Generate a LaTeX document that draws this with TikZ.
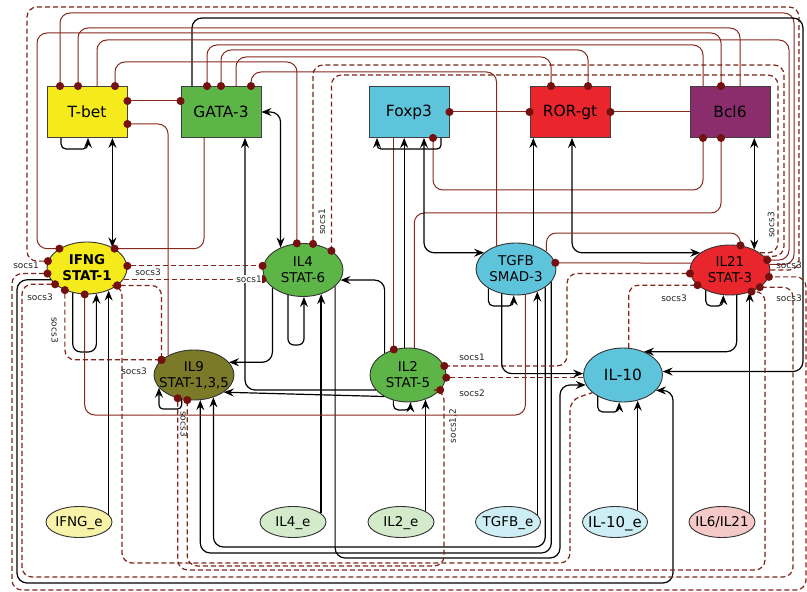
\documentclass[tikz,border=0pt]{standalone}
\usepackage{fontspec}
\setmainfont{DejaVu Sans}
\usetikzlibrary{shapes.geometric,arrows.meta}
\definecolor{inhc}{HTML}{86291F}
\definecolor{dashc}{HTML}{7E2418}
\definecolor{dotc}{HTML}{741010}
\definecolor{cyel}{HTML}{F4EA1C}
\definecolor{cgrn}{HTML}{5DB547}
\definecolor{ccya}{HTML}{5EC4DC}
\definecolor{cred}{HTML}{E8262B}
\definecolor{cpur}{HTML}{8B2C6C}
\definecolor{coli}{HTML}{7B7A28}
\definecolor{eyel}{HTML}{F8F3A8}
\definecolor{egrn}{HTML}{D4EBCB}
\definecolor{ecya}{HTML}{CDEEF5}
\definecolor{ered}{HTML}{F6C9C9}
% centred labels that do not enlarge their shapes
\newcommand{\onel}[1]{\smash{\raisebox{-0.36em}{\makebox[0pt]{#1}}}}
\newcommand{\twol}[2]{\smash{\raisebox{-4.8bp}{\makebox[0pt]{\begin{tabular}{@{}c@{}}#1\\#2\end{tabular}}}}}
\begin{document}
\begin{tikzpicture}[x=1bp,y=-1bp,
  box/.style={rectangle,draw=black!75,line width=0.9bp,minimum width=80bp,minimum height=51bp,inner sep=0pt,font=\fontsize{15.5}{17}\selectfont},
  cell/.style={ellipse,draw=black!80,line width=0.9bp,minimum width=80bp,minimum height=52bp,inner sep=0pt,font=\fontsize{13.5}{16}\selectfont},
  envn/.style={ellipse,draw=black!80,line width=0.9bp,minimum width=66bp,minimum height=31bp,inner sep=0pt,font=\fontsize{13.5}{15}\selectfont},
  inh/.style={draw=inhc,line width=1bp,rounded corners=10bp},
  socs/.style={draw=dashc,line width=1.2bp,rounded corners=10bp,dash pattern=on 5bp off 3bp},
  act/.style={draw=black,line width=1.2bp,rounded corners=10bp,-{Stealth[length=10bp,width=8bp,inset=3.5bp]}},
  actB/.style={draw=black,line width=1.2bp,rounded corners=10bp,{Stealth[length=10bp,width=8bp,inset=3.5bp]}-{Stealth[length=10bp,width=8bp,inset=3.5bp]}},
  dotE/.style={-{Circle[length=8bp,color=dotc]},shorten >=-4bp},
  dotS/.style={{Circle[length=8bp,color=dotc]}-,shorten <=-4bp},
  dotB/.style={{Circle[length=8bp,color=dotc]}-{Circle[length=8bp,color=dotc]},shorten >=-4bp,shorten <=-4bp},
  lab/.style={font=\fontsize{9}{10}\selectfont,inner sep=0.6pt,text=black!85}]
\fill[white] (0,0) rectangle (807,592);
\useasboundingbox (0,0) rectangle (807,592);

% transcription factors
\node[box,fill=cyel] (tbet) at (87,112) {T-bet};
\node[box,fill=cgrn] (gata) at (221,112) {GATA-3};
\node[box,fill=ccya] (foxp3) at (409,112) {Foxp3};
\node[box,fill=cred] (rorgt) at (570,112) {ROR-gt};
\node[box,fill=cpur] (bcl6) at (730,112) {Bcl6};

% cytokine / STAT nodes
\node[cell,fill=cyel] (ifng) at (87,268) {\twol{\bfseries IFNG}{\bfseries STAT-1}};
\node[cell,fill=cgrn,minimum height=53bp] (il4) at (303,270) {\twol{IL4}{STAT-6}};
\node[cell,fill=coli,minimum height=50bp] (il9) at (194,375) {\twol{IL9}{STAT-1,3,5}};
\node[cell,fill=cgrn,minimum width=76bp,minimum height=54bp] (il2) at (408,375) {\twol{IL2}{STAT-5}};
\node[cell,fill=ccya] (tgfb) at (516,269) {\twol{TGFB}{SMAD-3}};
\node[cell,fill=cred,minimum height=50bp] (il21) at (730,270) {\twol{IL21}{STAT-3}};
\node[cell,fill=ccya,minimum width=79bp,minimum height=54bp,font=\fontsize{15.5}{17}\selectfont] (il10) at (623,375) {\onel{IL-10}};

% external inputs
\node[envn,fill=eyel] (ifnge) at (79,522) {\onel{IFNG\_e}};
\node[envn,fill=egrn] (il4e) at (293,522) {\onel{IL4\_e}};
\node[envn,fill=egrn] (il2e) at (401,522) {\onel{IL2\_e}};
\node[envn,fill=ecya,minimum width=65bp] (tgfbe) at (508,522) {\onel{TGFB\_e}};
\node[envn,fill=ecya,minimum width=65bp,font=\fontsize{15}{16}\selectfont] (il10e) at (615,522) {\onel{IL-10\_e}};
\node[envn,fill=ered] (il6e) at (722,522) {\onel{IL6/IL21}};

% upper bus
\draw[socs,dotE] (il21.0) -| (799,7) -- (27,7) |- (ifng.170);
\draw[inh,dotE] (il21.8) -| (794,13) -| (tbet.north -| 60,0);
\draw[act] (gata.north -| 192,0) |- (803,18) |- (il10.5);
\draw[inh,dotE] (bcl6.north -| 740,0) |- (78,28) -- (tbet.north -| 78,0);
\draw[inh,dotB] (bcl6.north -| 721,0) |- (37,33) |- (ifng.145);
\draw[inh,dotE] (tbet.north -| 97,0) |- (789,40) |- (il21.15);
\draw[inh,dotE] (bcl6.north -| 703,0) |- (207,45) -- (gata.north -| 207,0);
\draw[inh,dotB] (rorgt.north -| 588,0) |- (221,50) -- (gata.north -| 221,0);
\draw[inh,dotE] (gata.north -| 236,0) |- (551,57) -- (rorgt.north -| 551,0);
\draw[inh,dotB] (tbet.north -| 115,0) |- (297,62) -- (il4.103);
\draw[inh,dotE] (tgfb.130) |- (251,72) -- (gata.north -| 251,0);
\draw[socs,dotE] (il21.22) -| (784,65) -| (il4.69);
\draw[socs,dotE] (il21.30) -| (778,75) -| (il4.34);

% links between the boxes and the middle row
\draw[inh,dotB] (tbet.east |- 0,101) -- (gata.west |- 0,101);
\draw[inh,dotE] (il9.143) |- (tbet.east |- 0,124);
\draw[inh,dotB] (foxp3.east) -- (rorgt.west);
\draw[inh,dotS] (rorgt.east) -- (bcl6.west);
\draw[act,rounded corners=5bp] (tbet.south -| 61,0) |- (88,149) -- (tbet.south -| 88,0);
\draw[actB] (ifng.39) -- (ifng.39 |- tbet.south);
\draw[actB] (il4.135) |- (gata.east);
\draw[inh,dotE] (gata.south -| 204,0) |- (ifng.35);
\draw[act] (il2.205) -| (gata.south -| 245,0);
\draw[act] (il2.222) -- (il9.330);
\draw[act,rounded corners=6bp] (il4.239) |- (il4.272 |- 0,345) -- (il4.272);
\draw[act] (il4.210) |- (il9.20);
\draw[act,line width=1.7bp] (il4e.17) -- (il4e.17 |- il4.307);
\draw[act] (il2.137) |- (il4.345);
\draw[act] (il4.333) |- (560,558) |- (il10.195);
\draw[act] (tgfb.328) |- (il9.311 |- 0,547) -- (il9.311);
\draw[act] (tgfb.340) |- (il9.284 |- 0,553) -- (il9.284);
\draw[act,rounded corners=5bp] (il2.240) |- (il2.275 |- 0,410) -- (il2.275);
\draw[act] (il2e.24) -- (il2e.24 |- il2.305);
\draw[act] (il2.98) -- (il2.98 |- foxp3.south);
\draw[inh,dotE] (il2.119 |- foxp3.south) -- (il2.119);
\draw[inh,dotE] (il2.77) |- (721,213) -- (bcl6.south -| 721,0);
\draw[inh,dotB] (foxp3.south -| 433,0) |- (703,190) -- (bcl6.south -| 703,0);
\draw[act,rounded corners=4bp] (foxp3.south -| 441,0) |- (377,149) -- (foxp3.south -| 377,0);
\draw[actB] (foxp3.south -| 424,0) |- (tgfb.153);
\draw[act] (tgfb.54) -- (tgfb.54 |- rorgt.south);
\draw[actB] (rorgt.south -| 572,0) |- (il21.150);
\draw[inh,dotE] (il21.170) -- (tgfb.9);
\draw[inh,dotE] (tgfb.30) |- (il21.67 |- 0,233) -- (il21.67);
\draw[actB] (il21.40) -- (il21.40 |- bcl6.south);
\draw[act,rounded corners=5bp] (il21.220) |- (il21.255 |- 0,306) -- (il21.255);
\draw[act] (il6e.18) -- (il6e.18 |- il21.311);
\draw[act] (il21.285) |- (il10.48);
\draw[socs,dotE] (il10.78) |- (il21.205);
\draw[socs,dotB] (il21.185) -| (567,330) |- (il2.14);
\draw[socs,dotS] (il2.356) -- (il2.356 -| il10.west);
\draw[act] (tgfb.240) |- (il10.178);
\draw[act,rounded corners=5bp] (tgfb.215) |- (tgfb.265 |- 0,306) -- (tgfb.265);
\draw[act] (tgfbe.14) -- (tgfbe.14 |- tgfb.313);
\draw[act,rounded corners=5bp] (il10.220) |- (il10.262 |- 0,412) -- (il10.262);
\draw[act] (il10e.27) -- (il10e.27 |- il10.299);

% left side and lower bus
\draw[act] (ifng.198) -| (17,583) -- (673,583) |- (il10.335);
\draw[socs,dotB] (ifng.188) -| (12,590) -- (806,590) |- (il21.350);
\draw[socs,dotB] (ifng.207) -| (22,577) -- (793,577) |- (il21.330);
\draw[socs,dotS] (ifng.330) -| (122,563) -| (570,400) -- (il10.210);
\draw[socs,dotB] (il9.235) |- (765,570) |- (il21.315);
\draw[socs,dotB] (il2.335) -| (444,566) -| (il9.255);
\draw[act,rounded corners=8bp] (ifng.240) |- (ifng.290 |- 0,352) -- (ifng.290);
\draw[act] (ifnge.14) -- (ifnge.14 |- ifng.313);
\draw[inh,dotE] (tgfb.290) |- (ifng.265 |- 0,415) -- (ifng.265);
\draw[socs,dotB] (ifng.3) -- (ifng.3 -| il4.west);
\draw[socs,dotE] (ifng.343) -- (ifng.343 -| il4.west);
\draw[socs,dotB] (ifng.330) -| (il9.155);
\draw[socs,dotB] (ifng.225) |- (il9.155);
\draw[act,rounded corners=4bp] (il9.243) |- (il9.200 |- 0,409) -- (il9.200);

% SOCS labels
\node[lab,fill=white] (lsa) at (26,265) {socs1};
\node[lab] (lsb) at (40,297) {socs3};
\node[lab,rotate=-90] (lsc) at (55,330) {socs3};
\node[lab] (lsd) at (134,371) {socs3};
\node[lab] (lse) at (148,272) {socs3};
\node[lab,fill=white] (lsf) at (249,279) {socs1};
\node[lab,rotate=90] (lsg) at (322,222) {socs1};
\node[lab,rotate=90] (lsh) at (771,225) {socs3};
\node[lab] (lsi) at (789,265) {socs3};
\node[lab] (lsj) at (789,298) {socs3};
\node[lab] (lsk) at (674,298) {socs3};
\node[lab] (lsl) at (472,357) {socs1};
\node[lab] (lsm) at (472,393) {socs2};
\node[lab,rotate=90] (lsn) at (453,426) {socs1,2};
\node[lab,rotate=-90] (lso) at (184,424) {socs3};
\end{tikzpicture}
\end{document}
